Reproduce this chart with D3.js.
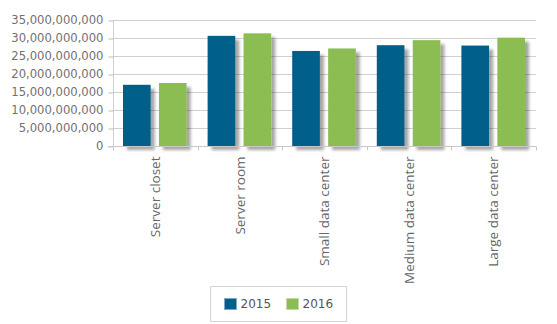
<!DOCTYPE html>
<html>
<head>
<meta charset="utf-8">
<script src="https://cdn.jsdelivr.net/npm/d3@7"></script>
<style>
  html, body { margin: 0; padding: 0; background: #fff; }
  svg { display: block; }
</style>
</head>
<body>
<svg id="chart" width="557" height="324"></svg>
<script>
// Data: data center size classes, values for two years
const categories = ["Server closet", "Server room", "Small data center", "Medium data center", "Large data center"];
const years = ["2015", "2016"];
const values2015 = [17.0e9, 30.6e9, 26.4e9, 28.0e9, 27.9e9];
const values2016 = [17.5e9, 31.3e9, 27.1e9, 29.4e9, 30.1e9];
const yTicks = [0, 5e9, 10e9, 15e9, 20e9, 25e9, 30e9, 35e9];
const colors = ["#00608a", "#8bbd52"];

const series = [values2015, values2016];

const svg = d3.select("#chart");
const margin = { left: 113, right: 21, top: 20, bottom: 178 };
const W = 557, H = 324;
const plotW = W - margin.left - margin.right;
const plotH = H - margin.top - margin.bottom;

const x0 = d3.scaleBand().domain(categories).range([0, plotW]).paddingInner(0).paddingOuter(0);
const x1 = d3.scaleBand().domain(years).range([10, x0.bandwidth() - 11]).paddingInner(0.23);
const y = d3.scaleLinear().domain([0, 35e9]).range([plotH, 0]);

// Bar shadow
const defs = svg.append("defs");
const f = defs.append("filter").attr("id", "shadow").attr("x", "-20%").attr("y", "-20%").attr("width", "160%").attr("height", "140%");
f.append("feDropShadow").attr("dx", 4).attr("dy", 4).attr("stdDeviation", 1.8)
  .attr("flood-color", "#000").attr("flood-opacity", 0.35);

const g = svg.append("g").attr("transform", `translate(${margin.left},${margin.top})`);

// Gridlines
g.append("g").selectAll("line").data(yTicks).join("line")
  .attr("x1", 0).attr("x2", plotW)
  .attr("y1", d => Math.round(y(d)) + 0.5).attr("y2", d => Math.round(y(d)) + 0.5)
  .attr("stroke", "#d0d0d0").attr("stroke-width", 1);

// Y axis
const yAxis = d3.axisLeft(y).tickValues(yTicks).tickSize(5).tickPadding(5)
  .tickFormat(d3.format(",.0f"));
const yg = g.append("g").attr("transform", "translate(0.5,0)").call(yAxis);
yg.select(".domain").attr("stroke", "#d0d0d0").attr("d", `M0,0V${plotH}`);
yg.selectAll(".tick line").attr("stroke", "#bbb").attr("transform", "translate(0,0.5)");
yg.selectAll(".tick text").attr("fill", "#707070").attr("font-family", "DejaVu Sans, Verdana, sans-serif")
  .attr("font-size", "11.6px");

// Bars
const groups = g.append("g").selectAll("g").data(categories).join("g")
  .attr("transform", d => `translate(${x0(d)},0)`);
groups.selectAll("rect").data((d, i) => years.map((yr, k) => ({ yr, v: series[k][i], k })))
  .join("rect")
  .attr("x", d => x1(d.yr))
  .attr("width", x1.bandwidth())
  .attr("y", d => y(d.v))
  .attr("height", d => plotH - y(d.v))
  .attr("fill", d => colors[d.k])
  .attr("filter", "url(#shadow)");

// X axis
const xAxis = d3.axisBottom(x0).tickSize(0).tickPadding(0);
const xg = g.append("g").attr("transform", `translate(0,${plotH + 0.5})`).call(xAxis);
xg.select(".domain").attr("stroke", "#c8c8c8").attr("d", `M-5,0H${plotW}`);
// category boundary ticks
xg.append("g").selectAll("line").data(d3.range(categories.length + 1)).join("line")
  .attr("x1", i => Math.round(i * x0.bandwidth()) + 0.5).attr("x2", i => Math.round(i * x0.bandwidth()) + 0.5)
  .attr("y1", 0).attr("y2", 4).attr("stroke", "#c8c8c8");
xg.selectAll(".tick text")
  .attr("fill", "#666")
  .attr("font-family", "Open Sans, sans-serif")
  .attr("font-size", "13.5px")
  .attr("text-anchor", "end")
  .attr("dy", "0.35em")
  .attr("transform", "translate(0,10) rotate(-90)");

// Legend
const lg = svg.append("g");
lg.append("rect").attr("x", 210.5).attr("y", 286.5).attr("width", 136).attr("height", 35)
  .attr("fill", "#fff").attr("stroke", "#d4d4d4");
const items = [{ t: "2015", x: 224 }, { t: "2016", x: 286 }];
items.forEach((it, k) => {
  lg.append("rect").attr("x", it.x + 0.5).attr("y", 298.5).attr("width", 12).attr("height", 11)
    .attr("fill", colors[k]).attr("stroke", k === 0 ? "#7fa9c4" : "#c2dca5");
  lg.append("text").attr("x", it.x + 16.5).attr("y", 304).attr("dy", "0.36em")
    .attr("font-family", "DejaVu Sans, Verdana, sans-serif").attr("font-size", "12px")
    .attr("fill", "#555").text(it.t);
});
</script>
</body>
</html>
